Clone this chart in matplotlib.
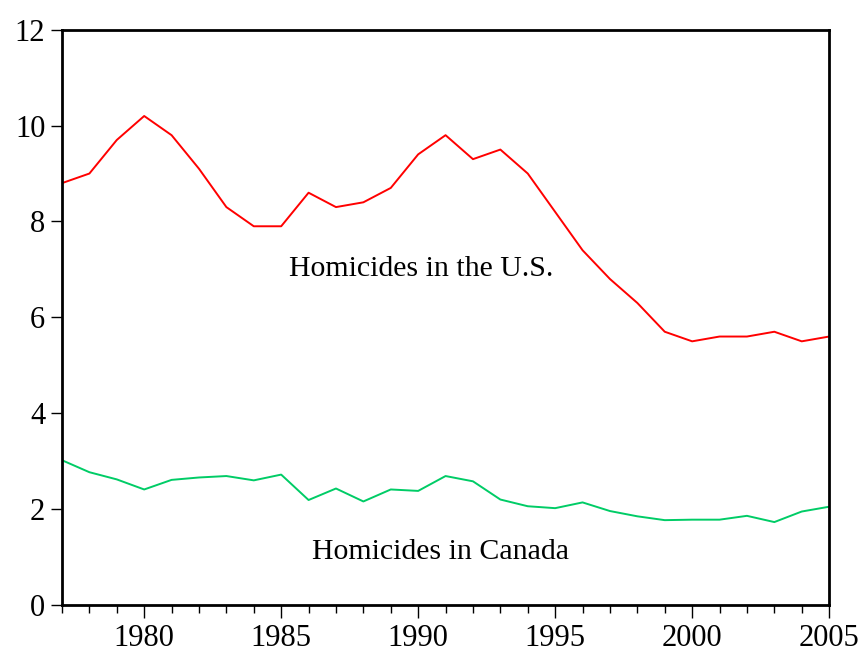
import matplotlib
matplotlib.use('Agg')
import matplotlib.pyplot as plt
from matplotlib.ticker import MultipleLocator

years = list(range(1977, 2006))
us = [8.8, 9.0, 9.7, 10.2, 9.8, 9.1, 8.3, 7.9, 7.9, 8.6, 8.3, 8.4, 8.7, 9.4,
      9.8, 9.3, 9.5, 9.0, 8.2, 7.4, 6.8, 6.3, 5.7, 5.5, 5.6, 5.6, 5.7, 5.5, 5.6]
canada = [3.02, 2.77, 2.62, 2.41, 2.61, 2.66, 2.69, 2.60, 2.72, 2.19, 2.43,
          2.16, 2.41, 2.38, 2.69, 2.58, 2.20, 2.06, 2.02, 2.14, 1.96, 1.85,
          1.77, 1.78, 1.78, 1.86, 1.73, 1.95, 2.05]

plt.rcParams['font.family'] = ['Liberation Serif', 'DejaVu Serif']

fig = plt.figure(figsize=(8.61, 6.53), dpi=100)
ax = fig.add_axes([0.072, 0.0735, 0.891, 0.881])

ax.plot(years, us, color='#ff0000', lw=1.4)
ax.plot(years, canada, color='#00cc66', lw=1.4)

ax.text(1990.1, 7.0, 'Homicides in the U.S.', fontsize=21.5, ha='center', va='center')
ax.text(1990.8, 1.1, 'Homicides in Canada', fontsize=21.5, ha='center', va='center')

ax.set_xlim(1977, 2005)
ax.set_ylim(0, 12)
ax.set_yticks(range(0, 13, 2))
ax.set_xticks(range(1980, 2006, 5))
ax.xaxis.set_minor_locator(MultipleLocator(1))

for s in ax.spines.values():
    s.set_linewidth(2)
ax.tick_params(axis='y', direction='out', length=8, width=1, labelsize=22, pad=4)
ax.tick_params(axis='x', which='major', direction='out', length=9.5, width=1,
               labelsize=22, pad=4.5)
ax.tick_params(axis='x', which='minor', direction='out', length=6, width=1)

fig.savefig('out.png', dpi=100)
